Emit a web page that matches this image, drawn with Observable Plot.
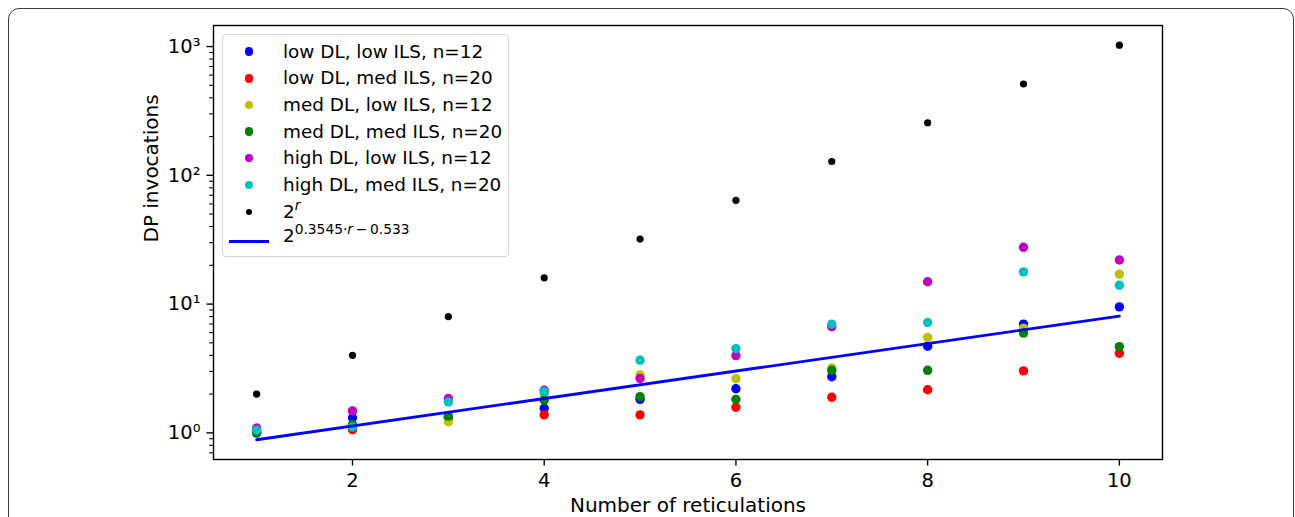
<!DOCTYPE html>
<html><head><meta charset="utf-8">
<script src="https://cdn.jsdelivr.net/npm/d3@7"></script>
<script src="https://cdn.jsdelivr.net/npm/@observablehq/plot@0.6"></script>
<style>
body{margin:0;background:#fff;font-family:"DejaVu Sans",sans-serif;}
#wrap{position:relative;width:1295px;height:517px;overflow:hidden;}
#chart{position:absolute;left:0;top:0;}
#frame{position:absolute;left:8px;top:8px;width:1286px;height:560px;border:1.3px solid #3a3a3a;border-radius:11px;box-sizing:border-box;pointer-events:none;}
#legend{position:absolute;left:222px;top:34px;width:287px;height:223px;border:1px solid #d4d4d4;border-radius:4px;background:rgba(255,255,255,0.8);box-sizing:border-box;font-size:18.4px;color:#000;font-family:"DejaVu Sans",sans-serif;}
.row{position:absolute;left:0;width:100%;height:26px;}
.mk{position:absolute;border-radius:50%;}
.ln{position:absolute;left:6px;width:40px;height:2.8px;}
.tx{position:absolute;left:60px;top:0;line-height:26px;white-space:nowrap;}
.tx sup{font-size:75%;line-height:0;position:relative;top:-0.1em;vertical-align:super;}
</style>
</head><body>
<div id="wrap"><div id="chart"></div><div id="legend"></div><div id="frame"></div></div>
<script>
// ---- data ----
const reticulations = [1, 2, 3, 4, 5, 6, 7, 8, 9, 10];
const lowDLlowILS   = [1.00, 1.31, 1.32, 1.55, 1.82, 2.20, 2.73, 4.71, 6.99, 9.52];
const lowDLmedILS   = [1.00, 1.06, 1.31, 1.38, 1.38, 1.58, 1.89, 2.16, 3.03, 4.15];
const medDLlowILS   = [1.00, 1.15, 1.22, 2.00, 2.82, 2.63, 3.19, 5.50, 6.50, 17.1];
const medDLmedILS   = [1.00, 1.16, 1.35, 1.79, 1.91, 1.82, 3.06, 3.06, 5.95, 4.67];
const highDLlowILS  = [1.09, 1.48, 1.85, 2.14, 2.65, 3.98, 6.67, 14.9, 27.6, 22.0];
const highDLmedILS  = [1.05, 1.11, 1.74, 2.09, 3.66, 4.51, 6.99, 7.19, 17.8, 14.0];
const twoPowR       = [2, 4, 8, 16, 32, 64, 128, 256, 512, 1024];
const fitR          = [1, 10];
const fitValues     = [0.884, 8.07];
const seriesLabels  = ["low DL, low ILS, n=12", "low DL, med ILS, n=20", "med DL, low ILS, n=12",
                       "med DL, med ILS, n=20", "high DL, low ILS, n=12", "high DL, med ILS, n=20"];
const seriesColors  = ["#0000ff", "#ff0000", "#bfbf00", "#008000", "#bf00bf", "#00bfbf"];
const seriesValues  = [lowDLlowILS, lowDLmedILS, medDLlowILS, medDLmedILS, highDLlowILS, highDLmedILS];
const xTicks        = [2, 4, 6, 8, 10];
const yTicks        = [1, 10, 100, 1000];
const yTickLabels   = ["10\u2070", "10\u00B9", "10\u00B2", "10\u00B3"];
const xLabel        = "Number of reticulations";
const yLabel        = "DP invocations";
const powLabelHTML  = "2<sup><i>r</i></sup>";
const fitLabelHTML  = "2<sup>0.3545\u00B7<i>r</i>\u2009\u2212\u20090.533</sup>";

// minor ticks of the log axis
const yMinor = [];
for (let e = -1; e <= 3; e++) for (let m = 2; m <= 9; m++) {
  const v = m * Math.pow(10, e);
  if (v > 0.62 && v < 1460) yMinor.push(v);
}

const toRows = vals => reticulations.map((r, i) => ({r, v: vals[i]}));

const marks = [];
seriesValues.forEach((vals, k) => {
  marks.push(Plot.dot(toRows(vals), {x: "r", y: "v", r: 4.7, fill: seriesColors[k], stroke: "none"}));
});
marks.push(Plot.dot(toRows(twoPowR), {x: "r", y: "v", r: 3.6, fill: "black", stroke: "none"}));
marks.push(Plot.line(fitR.map((r, i) => ({r, v: fitValues[i]})), {x: "r", y: "v", stroke: "#0000ff", strokeWidth: 2.8}));
marks.push(Plot.frame({stroke: "black", strokeWidth: 1.4}));
marks.push(Plot.axisX({ticks: xTicks, tickSize: 6.5, tickPadding: 7.5, fontSize: 19.5, label: null, strokeWidth: 1.4}));
marks.push(Plot.axisY({ticks: yTicks, tickSize: 6.5, tickPadding: 6.5, fontSize: 19.5, label: null, strokeWidth: 1.4,
  tickFormat: d => yTickLabels[yTicks.indexOf(d)]}));
marks.push(Plot.axisY({ticks: yMinor, tickSize: 3.8, tickFormat: () => "", label: null, strokeWidth: 1.1}));
marks.push(Plot.text([yLabel], {frameAnchor: "left", rotate: -90, dx: -62, fontSize: 20, fill: "black"}));
marks.push(Plot.text([xLabel], {frameAnchor: "bottom", dy: 52.5, fontSize: 20, fill: "black"}));

const chart = Plot.plot({
  width: 1295, height: 517,
  marginLeft: 213, marginRight: 133, marginTop: 25, marginBottom: 58,
  x: {domain: [0.55, 10.45], label: null},
  y: {type: "log", domain: [0.621, 1457], label: null},
  style: {fontFamily: "DejaVu Sans", fontSize: "19.5px", background: "transparent", color: "black", overflow: "visible"},
  marks
});
document.getElementById("chart").appendChild(chart);

// ---- legend ----
const legend = document.getElementById("legend");
const rowCenters = [16.7, 43.3, 70, 96.5, 123, 150, 177, 201];
function addRow(i, markerHTML, textHTML) {
  const row = document.createElement("div");
  row.className = "row";
  row.style.top = (rowCenters[i] - 13) + "px";
  row.innerHTML = markerHTML + '<span class="tx">' + textHTML + '</span>';
  legend.appendChild(row);
}
seriesLabels.forEach((lab, k) => {
  addRow(k, `<span class="mk" style="left:${26-4.4}px;top:${13-4.4}px;width:8.8px;height:8.8px;background:${seriesColors[k]}"></span>`, lab);
});
addRow(6, `<span class="mk" style="left:${26-3.3}px;top:${13-3.3}px;width:6.6px;height:6.6px;background:#000"></span>`, powLabelHTML);
addRow(7, `<span class="ln" style="top:${13+4}px;background:#0000ff"></span>`, fitLabelHTML);
</script>
</body></html>
